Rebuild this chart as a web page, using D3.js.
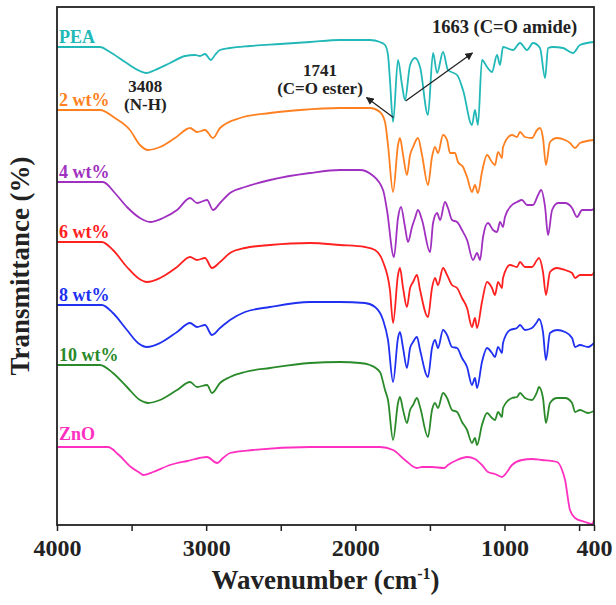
<!DOCTYPE html>
<html>
<head>
<meta charset="utf-8">
<script src="https://cdn.jsdelivr.net/npm/d3@7"></script>
<style>
  body { margin: 0; background: #fff; }
  text { font-family: 'Liberation Serif', 'Times New Roman', serif; font-weight: bold; }
</style>
</head>
<body>
<div id="chart"></div>
<script>
// FTIR spectra, [wavenumber (cm-1), transmittance (a.u., offset)]
const pea = [[4000, 95.6], [3712, 95.6], [3645, 94.6], [3544, 92.6], [3444, 90.8], [3403, 90.4], [3343, 91.0], [3242, 92.4], [3142, 93.8], [3075, 94.0], [3041, 93.8], [3008, 94.2], [2968, 93.0], [2941, 94.0], [2907, 95.0], [2840, 95.4], [2706, 95.8], [2505, 96.2], [2304, 96.6], [2103, 97.0], [1902, 97.0], [1835, 96.6], [1801, 96.0], [1781, 94.0], [1768, 89.0], [1747, 80.6], [1714, 93.0], [1687, 88.0], [1667, 85.0], [1633, 92.0], [1600, 93.4], [1566, 91.6], [1513, 82.0], [1479, 94.4], [1452, 90.4], [1412, 94.6], [1379, 91.0], [1318, 90.0], [1278, 87.0], [1218, 80.0], [1198, 83.0], [1178, 80.0], [1151, 93.0], [1117, 91.6], [1084, 90.6], [1050, 94.0], [1030, 92.0], [1010, 95.6], [943, 95.0], [896, 96.4], [849, 95.0], [809, 96.4], [762, 95.4], [728, 89.4], [708, 95.4], [675, 95.6], [608, 95.4], [541, 94.4], [494, 96.0], [400, 96.6]]

const wt2 = [[4000, 83.0], [3712, 83.0], [3612, 81.4], [3511, 79.0], [3444, 76.0], [3390, 75.0], [3309, 75.6], [3209, 77.4], [3108, 79.4], [3061, 78.6], [3008, 79.0], [2954, 77.4], [2907, 79.4], [2773, 81.4], [2572, 82.4], [2371, 83.0], [2103, 83.4], [1902, 83.4], [1835, 82.6], [1801, 80.6], [1781, 76.0], [1747, 66.6], [1714, 76.0], [1701, 77.4], [1680, 74.0], [1654, 70.0], [1633, 74.0], [1613, 75.6], [1580, 77.4], [1553, 74.0], [1513, 68.0], [1486, 73.6], [1466, 75.6], [1446, 74.4], [1412, 78.0], [1385, 77.0], [1365, 74.4], [1332, 74.4], [1312, 72.6], [1278, 71.6], [1251, 69.6], [1218, 66.6], [1198, 68.0], [1178, 66.4], [1151, 70.6], [1117, 74.0], [1084, 72.6], [1064, 72.0], [1043, 74.6], [1017, 73.4], [1010, 75.6], [950, 78.0], [916, 77.6], [896, 78.6], [863, 77.6], [816, 77.4], [782, 79.0], [762, 79.4], [742, 77.4], [722, 72.0], [695, 76.6], [648, 77.4], [594, 77.0], [561, 76.4], [527, 75.4], [494, 76.4], [400, 77.0]]

const wt4 = [[4000, 68.6], [3692, 68.6], [3612, 66.4], [3531, 63.6], [3444, 61.4], [3376, 60.6], [3289, 61.4], [3195, 63.0], [3108, 65.4], [3061, 64.4], [2994, 65.0], [2954, 63.0], [2907, 64.4], [2840, 66.4], [2740, 67.6], [2572, 69.0], [2304, 70.4], [2103, 71.0], [1969, 71.0], [1888, 70.0], [1814, 67.0], [1788, 63.0], [1741, 53.6], [1714, 61.4], [1694, 63.6], [1667, 59.6], [1647, 56.6], [1620, 59.6], [1600, 61.4], [1580, 63.0], [1553, 61.0], [1499, 54.6], [1479, 60.4], [1452, 62.4], [1432, 61.0], [1399, 64.6], [1379, 63.4], [1352, 61.0], [1318, 60.6], [1285, 59.0], [1251, 57.0], [1211, 53.0], [1184, 54.4], [1164, 53.0], [1144, 57.6], [1111, 60.4], [1077, 59.0], [1050, 58.6], [1030, 60.6], [1010, 59.6], [997, 61.6], [950, 64.0], [916, 64.6], [883, 65.0], [849, 64.0], [809, 64.0], [775, 66.0], [755, 67.0], [728, 63.6], [708, 58.0], [681, 63.0], [641, 64.4], [594, 64.4], [547, 63.4], [514, 61.6], [480, 63.0], [413, 63.0], [400, 63.4]]

const wt6 = [[4000, 56.6], [3699, 56.6], [3625, 55.0], [3531, 51.6], [3457, 49.4], [3397, 48.6], [3309, 49.4], [3195, 51.6], [3108, 53.6], [3061, 53.0], [3008, 53.4], [2961, 51.4], [2907, 52.6], [2840, 54.4], [2740, 55.4], [2572, 56.0], [2304, 56.4], [2103, 56.0], [1935, 55.6], [1868, 55.0], [1814, 52.6], [1768, 47.0], [1747, 40.4], [1714, 50.0], [1701, 51.4], [1680, 47.4], [1654, 43.6], [1633, 47.4], [1613, 48.6], [1587, 50.0], [1566, 47.0], [1513, 41.6], [1486, 47.4], [1466, 49.4], [1446, 48.0], [1412, 51.4], [1385, 50.0], [1352, 48.0], [1318, 47.4], [1285, 45.4], [1251, 43.4], [1218, 39.6], [1198, 41.4], [1184, 39.4], [1151, 44.6], [1117, 48.6], [1084, 47.4], [1064, 46.0], [1043, 48.6], [1017, 47.4], [1010, 49.4], [963, 52.0], [916, 51.6], [896, 52.6], [863, 51.6], [816, 51.6], [782, 53.0], [769, 53.4], [742, 50.6], [722, 46.0], [695, 50.6], [648, 51.4], [594, 51.0], [547, 50.4], [527, 49.4], [494, 50.0], [413, 50.0], [400, 50.6]]

const wt8 = [[4000, 44.0], [3699, 44.0], [3625, 42.4], [3531, 39.0], [3457, 36.4], [3397, 35.6], [3309, 36.4], [3195, 38.6], [3108, 40.4], [3061, 39.6], [3008, 40.0], [2961, 38.0], [2907, 39.4], [2840, 41.0], [2740, 42.6], [2572, 43.6], [2304, 44.6], [2103, 44.6], [1935, 44.4], [1868, 43.6], [1814, 41.0], [1781, 37.0], [1747, 28.6], [1714, 37.4], [1701, 38.6], [1680, 35.4], [1654, 31.4], [1633, 35.4], [1613, 36.6], [1587, 37.6], [1566, 35.0], [1513, 29.6], [1486, 35.4], [1466, 37.0], [1446, 35.4], [1412, 39.0], [1385, 38.0], [1352, 35.6], [1318, 35.4], [1285, 33.4], [1251, 31.6], [1218, 28.0], [1198, 29.4], [1184, 27.4], [1151, 32.6], [1117, 35.4], [1084, 34.4], [1064, 33.6], [1043, 35.6], [1017, 34.4], [1010, 36.4], [963, 39.0], [916, 39.4], [896, 40.0], [863, 39.0], [816, 39.4], [782, 40.6], [769, 41.2], [742, 38.6], [722, 33.0], [695, 38.4], [648, 39.0], [594, 38.6], [547, 37.4], [527, 35.6], [494, 36.0], [440, 35.6], [400, 36.4]]

const wt10 = [[4000, 32.0], [3712, 32.0], [3625, 30.4], [3531, 27.6], [3444, 25.0], [3390, 24.4], [3309, 25.0], [3195, 27.0], [3108, 28.6], [3061, 27.6], [2994, 28.0], [2961, 26.4], [2907, 28.4], [2840, 29.6], [2740, 30.6], [2572, 31.4], [2304, 32.4], [2103, 32.6], [1969, 32.4], [1902, 32.0], [1835, 30.6], [1801, 27.0], [1781, 25.0], [1747, 17.0], [1714, 24.4], [1701, 25.6], [1680, 23.0], [1654, 20.4], [1633, 23.0], [1613, 24.0], [1587, 25.4], [1566, 23.6], [1513, 17.6], [1486, 23.0], [1466, 24.4], [1446, 23.4], [1412, 26.4], [1385, 25.4], [1352, 23.0], [1318, 22.6], [1285, 20.6], [1251, 19.0], [1218, 16.4], [1198, 17.4], [1184, 16.0], [1151, 20.0], [1117, 22.4], [1084, 21.4], [1064, 21.0], [1043, 22.6], [1017, 21.6], [1010, 23.4], [950, 25.4], [916, 25.6], [896, 26.4], [863, 25.4], [816, 25.0], [782, 26.6], [769, 27.6], [742, 25.4], [722, 20.4], [695, 24.4], [648, 25.4], [594, 25.4], [547, 24.4], [527, 22.6], [494, 23.0], [440, 22.4], [400, 22.8]]

const zno = [[4000, 15.6], [3659, 15.6], [3585, 14.0], [3504, 11.6], [3444, 10.4], [3423, 10.0], [3356, 10.6], [3242, 12.0], [3128, 12.8], [2994, 13.6], [2927, 12.4], [2887, 13.4], [2840, 14.4], [2686, 15.0], [2304, 15.6], [1835, 15.6], [1747, 15.0], [1667, 13.0], [1587, 11.4], [1553, 11.6], [1486, 11.6], [1405, 11.4], [1379, 12.0], [1318, 13.0], [1251, 13.6], [1198, 13.2], [1151, 12.0], [1111, 10.6], [1064, 10.2], [1017, 9.6], [983, 10.6], [950, 12.0], [883, 13.0], [816, 13.2], [749, 13.0], [648, 12.6], [614, 11.0], [594, 9.0], [561, 3.0], [527, 1.4], [460, 0.6], [413, 0.2], [400, 1.0]]

const seriesNames = ['PEA', '2 wt%', '4 wt%', '6 wt%', '8 wt%', '10 wt%', 'ZnO']
const seriesData = [pea, wt2, wt4, wt6, wt8, wt10, zno]
const seriesColors = ['#22b8b8', '#ff8020', '#a030c0', '#ff2020', '#2030f0', '#2a8a2a', '#ff30c0']

const xTicks = [4000, 3500, 3000, 2500, 2000, 1500, 1000, 500, 400]
const xLabels = [4000, 3000, 2000, 1000, 400]

const margin = { top: 7, left: 57, right: 22, bottom: 80 }
const width = 616 - margin.left - margin.right
const height = 605 - margin.top - margin.bottom

const svg = d3
  .select('#chart')
  .append('svg')
  .attr('width', width + margin.left + margin.right)
  .attr('height', height + margin.top + margin.bottom)
  .append('g')
  .attr('transform', 'translate(' + margin.left + ',' + margin.top + ')')

const xPositionScale = d3.scaleLinear().domain([4000, 400]).range([0, width])
const yPositionScale = d3.scaleLinear().domain([0, 103.6]).range([height, 0])

const line = d3
  .line()
  .x(d => xPositionScale(d[0]))
  .y(d => yPositionScale(d[1]))
  .curve(d3.curveMonotoneX)

seriesData.forEach(function(data, i) {
  svg
    .append('path')
    .datum(data)
    .attr('d', line)
    .attr('fill', 'none')
    .attr('stroke', seriesColors[i])
    .attr('stroke-width', 1.8)

  svg
    .append('text')
    .text(seriesNames[i])
    .attr('x', 2)
    .attr('y', yPositionScale(data[0][1]) - (i === 6 ? 7 : 4))
    .attr('font-size', 18)
    .attr('fill', seriesColors[i])
})

// annotations
svg.append('defs')
  .append('marker')
  .attr('id', 'arrow')
  .attr('viewBox', '0 0 10 10')
  .attr('refX', 9)
  .attr('refY', 5)
  .attr('markerWidth', 6)
  .attr('markerHeight', 6)
  .attr('orient', 'auto')
  .append('path')
  .attr('d', 'M0,0 L10,5 L0,10 z')
  .attr('fill', '#222')

function note(txt, wn, y) {
  svg.append('text')
    .text(txt)
    .attr('x', xPositionScale(wn))
    .attr('y', y)
    .attr('text-anchor', 'middle')
    .attr('font-size', 17)
    .attr('fill', '#222')
}

note('3408', 3408, 85)
note('(N-H)', 3408, 103)
note('1741', 2237, 69)
note('(C=O ester)', 2237, 87)

svg.append('line')
  .attr('x1', xPositionScale(1745))
  .attr('y1', yPositionScale(81.5))
  .attr('x2', xPositionScale(1925))
  .attr('y2', yPositionScale(85.5))
  .attr('stroke', '#222')
  .attr('stroke-width', 1.3)
  .attr('marker-end', 'url(#arrow)')

svg.append('text')
  .text('1663 (C=O amide)')
  .attr('x', xPositionScale(1000))
  .attr('y', 26)
  .attr('text-anchor', 'middle')
  .attr('font-size', 18.5)
  .attr('fill', '#222')
svg.append('line')
  .attr('x1', xPositionScale(1663))
  .attr('y1', yPositionScale(84.8))
  .attr('x2', xPositionScale(1215))
  .attr('y2', yPositionScale(94.4))
  .attr('stroke', '#222')
  .attr('stroke-width', 1.3)
  .attr('marker-end', 'url(#arrow)')

// axes
const xAxis = d3
  .axisBottom(xPositionScale)
  .tickValues(xTicks)
  .tickSize(6)
  .tickPadding(8)
  .tickFormat(d => (xLabels.includes(d) ? d : ''))
svg
  .append('g')
  .attr('class', 'axis x-axis')
  .attr('transform', 'translate(0,' + height + ')')
  .call(xAxis)

svg.selectAll('.x-axis path').remove()
svg.selectAll('.x-axis line').attr('stroke', '#222').attr('stroke-width', 1.5)
svg
  .selectAll('.x-axis text')
  .attr('font-size', 24)
  .attr('font-family', "'Liberation Serif', serif")
  .attr('font-weight', 'bold')
  .attr('fill', '#222')

svg
  .append('rect')
  .attr('x', 0)
  .attr('y', 0)
  .attr('width', width)
  .attr('height', height)
  .attr('fill', 'none')
  .attr('stroke', '#222')
  .attr('stroke-width', 1.8)

const xTitle = svg
  .append('text')
  .attr('x', width / 2)
  .attr('y', height + 64)
  .attr('text-anchor', 'middle')
  .attr('font-size', 27)
  .attr('fill', '#222')
xTitle.append('tspan').text('Wavenumber (cm')
xTitle.append('tspan').text('-1').attr('font-size', 16).attr('dy', -10)
xTitle.append('tspan').text(')').attr('dy', 10)

svg
  .append('text')
  .text('Transmittance (%)')
  .attr('transform', 'translate(-28,' + height / 2 + ') rotate(-90)')
  .attr('text-anchor', 'middle')
  .attr('font-size', 27)
  .attr('fill', '#222')
</script>
</body>
</html>
